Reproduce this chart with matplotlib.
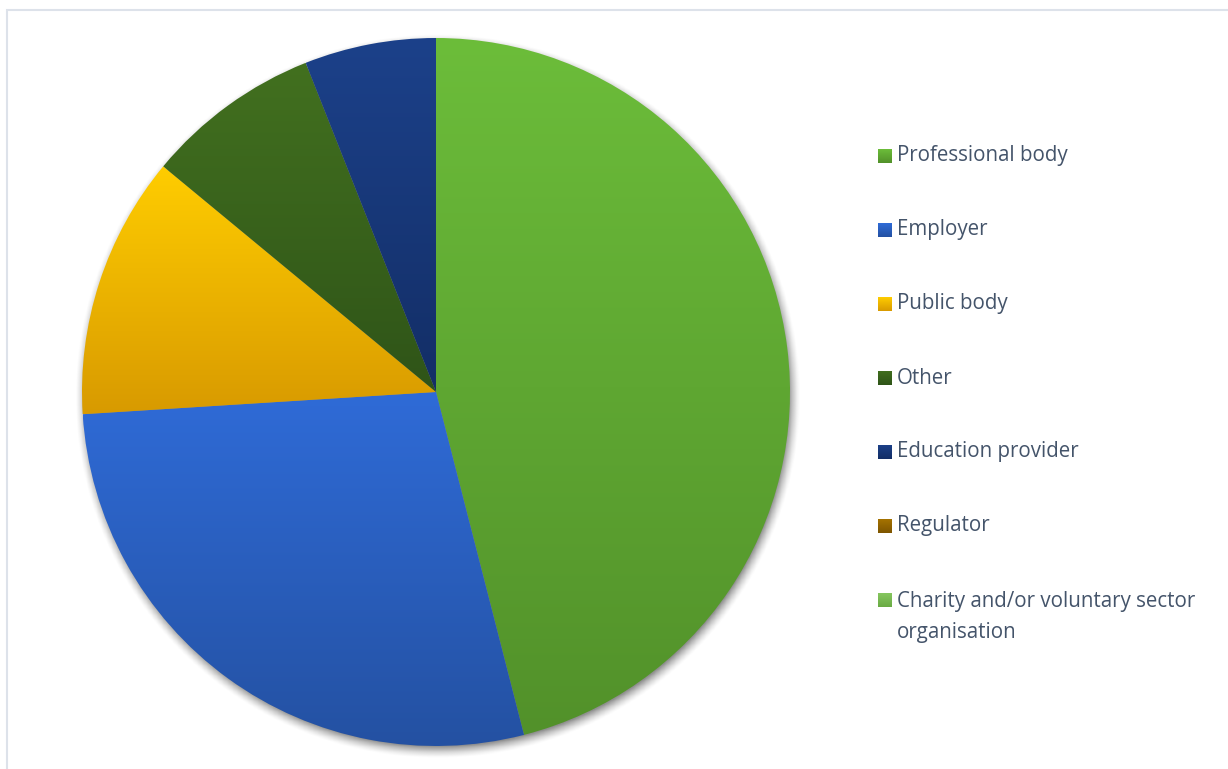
import numpy as np
import matplotlib.pyplot as plt
from matplotlib.colors import LinearSegmentedColormap
from matplotlib.patches import Rectangle

labels = ['Professional body', 'Employer', 'Public body', 'Other',
          'Education provider', 'Regulator',
          'Charity and/or voluntary sector\norganisation']
values = [46, 28, 12, 8, 6, 0, 0]
# (top, bottom) gradient colours per slice
tops = ['#6CBD3A', '#2F6BD7', '#FFCD00', '#42701F', '#1C418A', '#A87400', '#86C660']
bottoms = ['#52912A', '#2451A2', '#D89A00', '#2F5418', '#132E66', '#7E5600', '#6AAB43']

W, H = 1228, 769
fig = plt.figure(figsize=(W / 100, H / 100), dpi=100)
fig.patch.set_facecolor('white')

# outer chart frame
fig.patches.append(Rectangle((7 / W, -0.01), 1.02, 1 - 10 / H + 0.01,
                             transform=fig.transFigure, fill=False,
                             edgecolor='#DDE2EA', linewidth=1.5))

cx, cy, r = 436, 392, 354
ax = fig.add_axes([(cx - r - 20) / W, (H - cy - r - 20) / H,
                   (2 * r + 40) / W, (2 * r + 40) / H])
lim = (r + 20) / r
ax.set_xlim(-lim, lim)
ax.set_ylim(-lim, lim)
ax.set_aspect('equal')
ax.axis('off')

# soft drop shadow under the pie
n = 600
g = np.linspace(-lim, lim, n)
xx, yy = np.meshgrid(g, g)
d = np.hypot(xx - 0.004, yy + 0.012)
sh = np.clip((1.025 - d) / 0.035, 0, 1) ** 1.5 * 0.45
shadow = np.zeros((n, n, 4))
shadow[..., 3] = sh
ax.imshow(shadow, extent=[-lim, lim, -lim, lim], origin='lower', zorder=0)

wedges, _ = ax.pie(values, startangle=90, counterclock=False, radius=1,
                   wedgeprops=dict(linewidth=0))

grad = np.linspace(0, 1, 256).reshape(-1, 1)
for w, top, bot in zip(wedges, tops, bottoms):
    w.set_facecolor('none')
    if w.theta2 - w.theta1 <= 0:
        continue
    bb = w.get_path().get_extents()
    cmap = LinearSegmentedColormap.from_list('g', [bot, top])
    im = ax.imshow(grad, extent=[bb.x0, bb.x1, bb.y0, bb.y1], origin='lower',
                   cmap=cmap, aspect='auto', zorder=1)
    im.set_clip_path(w)

ax.set_xlim(-lim, lim)
ax.set_ylim(-lim, lim)

# legend
row_y = [156, 230, 304, 378, 452, 526, 600]
for y, lab, top, bot in zip(row_y, labels, tops, bottoms):
    sq = fig.add_axes([878 / W, 1 - (y + 7) / H, 14 / W, 14 / H])
    sq.imshow(grad, cmap=LinearSegmentedColormap.from_list('s', [top, bot]),
              aspect='auto', extent=[0, 1, 0, 1])
    sq.axis('off')
    if '\n' in lab:
        fig.text(897 / W, 1 - (y - 9) / H, lab, fontsize=14.8, color='#44546A',
                 family='Open Sans', va='top', linespacing=1.6)
    else:
        fig.text(897 / W, 1 - y / H, lab, fontsize=14.8, color='#44546A',
                 family='Open Sans', va='center')

fig.savefig('out.png', dpi=100)
